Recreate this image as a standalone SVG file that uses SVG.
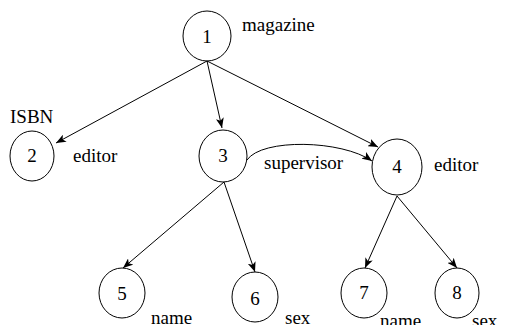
<svg xmlns="http://www.w3.org/2000/svg" width="505" height="325" viewBox="0 0 505 325">
<style>
.n{fill:none;stroke:#000;stroke-width:1}
.c{text-anchor:middle}
.e{fill:none;stroke:#000;stroke-width:1}
</style>
<defs>
<marker id="a" viewBox="0 0 10 8" refX="10" refY="4" markerWidth="10" markerHeight="8" markerUnits="userSpaceOnUse" orient="auto">
<path d="M0,0 L10,4 L0,8 L2.5,4 Z" fill="#000"/>
</marker>
</defs>
<rect width="505" height="325" fill="#fff"/>
<g id="edges">
<line class="e" x1="207" y1="61" x2="56" y2="143" marker-end="url(#a)"/>
<line class="e" x1="207" y1="61" x2="222" y2="128" marker-end="url(#a)"/>
<line class="e" x1="207" y1="61" x2="378" y2="147" marker-end="url(#a)"/>
<path class="e" d="M247,160 C262,138 342,140 372,161" marker-end="url(#a)"/>
<line class="e" x1="224" y1="182" x2="123" y2="268" marker-end="url(#a)"/>
<line class="e" x1="224" y1="182" x2="255" y2="272" marker-end="url(#a)"/>
<line class="e" x1="397" y1="196" x2="365" y2="268" marker-end="url(#a)"/>
<line class="e" x1="397" y1="196" x2="457" y2="268" marker-end="url(#a)"/>
</g>
<g font-family="Liberation Serif, Times New Roman, DejaVu Serif, serif" font-size="19" fill="#000">
<g id="node1"><ellipse class="n" cx="207" cy="36" rx="24" ry="25"/><text class="c" x="207" y="43">1</text><text x="242" y="31">magazine</text></g>
<g id="node2"><ellipse class="n" cx="32" cy="156" rx="22" ry="25"/><text class="c" x="32" y="162">2</text><text x="10" y="123">ISBN</text><text x="73" y="162">editor</text></g>
<g id="node3"><ellipse class="n" cx="223" cy="156" rx="24" ry="26"/><text class="c" x="223" y="162">3</text><text x="264" y="169">supervisor</text></g>
<g id="node4"><ellipse class="n" cx="397" cy="167" rx="25" ry="28"/><text class="c" x="397" y="173">4</text><text x="434" y="171">editor</text></g>
<g id="node5"><ellipse class="n" cx="122" cy="293" rx="23" ry="25"/><text class="c" x="122" y="300">5</text><text x="151" y="324">name</text></g>
<g id="node6"><ellipse class="n" cx="255" cy="297" rx="23" ry="25"/><text class="c" x="255" y="305">6</text><text x="285" y="324">sex</text></g>
<g id="node7"><ellipse class="n" cx="364" cy="293" rx="23" ry="25"/><text class="c" x="364" y="299">7</text><text x="380" y="327">name</text></g>
<g id="node8"><ellipse class="n" cx="457" cy="293" rx="22" ry="25"/><text class="c" x="457" y="299">8</text><text x="472" y="327">sex</text></g>
</g>
</svg>
